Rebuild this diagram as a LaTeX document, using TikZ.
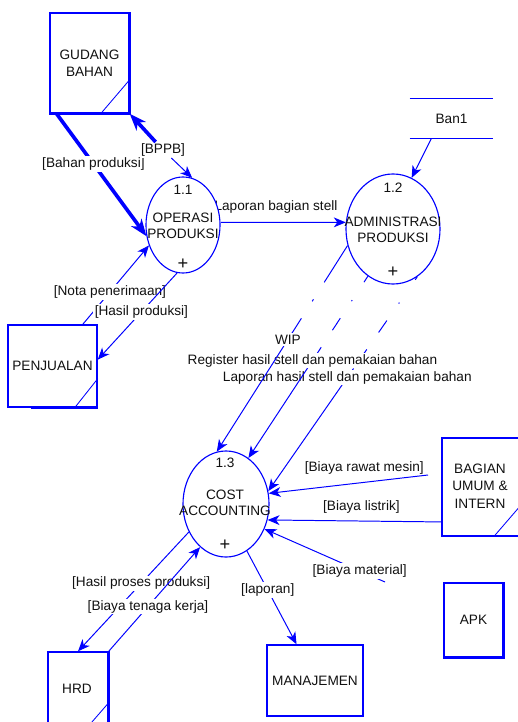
\documentclass[tikz,border=0pt]{standalone}
\usepackage{fontspec}
\setmainfont{Liberation Sans}
\usetikzlibrary{shapes.geometric,arrows.meta}
\definecolor{dfdblue}{HTML}{0000FF}
\definecolor{ink}{HTML}{111111}
\newcommand{\dfdfont}{\fontsize{9.7}{12.4}\selectfont}

\begin{document}
\begin{tikzpicture}[x=.025cm,y=-.025cm,
  every node/.style={text=ink,font=\dfdfont},
  proc/.style={ellipse,draw=dfdblue,line width=.8pt,fill=white,inner sep=0pt},
  ent/.style={draw=dfdblue,line width=1pt,inner sep=0pt,align=center},
  flow/.style={draw=dfdblue,line width=.7pt,-{Stealth[length=8.5pt,width=7pt,inset=2.5pt]}},
  bigflow/.style={flow,line width=2.6pt,-{Stealth[length=12pt,width=9pt,inset=3.5pt]}},
  lbl/.style={fill=white,inner sep=1pt},
  ptext/.style={align=center,font=\fontsize{9.7}{11.5}\selectfont},
  plus/.style={font=\fontsize{13}{13}\selectfont}]
\fill[white] (0,0) rectangle (518,722);
\useasboundingbox (0,0) rectangle (518,722);
% label that slips under process 1.1
\node (lstell) at (276,207) {Laporan bagian stell};
% processes
\node[proc,minimum width=1.85cm,minimum height=2.4cm] (p11) at (183,225) {};
\node[proc,minimum width=2.35cm,minimum height=2.75cm] (p12) at (393,229) {};
\node[proc,minimum width=2.15cm,minimum height=2.65cm] (p13) at (226,504) {};
\node[ptext] (n11) at (183,190) {1.1};
\node[ptext] (t11) at (183,226) {OPERASI\\PRODUKSI};
\node[plus] (x11) at (183,264) {+};
\node[ptext] (n12) at (393,188) {1.2};
\node[ptext] (t12) at (393,230) {ADMINISTRASI\\PRODUKSI};
\node[plus] (x12) at (393,272) {+};
\node[ptext] (n13) at (225,463) {1.3};
\node[ptext] (t13) at (225,503) {COST\\ACCOUNTING};
\node[plus] (x13) at (225,545) {+};
% external entities
\node[ent,minimum width=1.975cm,minimum height=2.5cm] (gudang) at (89.5,63) {GUDANG\\BAHAN};
\draw[dfdblue,line width=2.2pt] (gudang.north east) -- (gudang.south east) -- (gudang.south west);
\draw[dfdblue,line width=.6pt] ([xshift=-.725cm]gudang.south east) -- ([yshift=.85cm]gudang.south east);
\node[ent,minimum width=2.225cm,minimum height=2.05cm] (penjualan) at (52.5,366) {PENJUALAN};
\draw[dfdblue,line width=2pt] ([xshift=.6cm]penjualan.south west) -- (penjualan.south east);
\draw[dfdblue,line width=.6pt] ([xshift=-.575cm]penjualan.south east) -- ([yshift=.725cm]penjualan.south east);
\node[ent,minimum width=2.2cm,minimum height=2.45cm] (bagian) at (486,487) {};
\node[align=center] (tbagian) at (480,486) {BAGIAN\\UMUM \&\\INTERN};
\draw[dfdblue,line width=.6pt] ([xshift=-.925cm]bagian.south east) -- ([xshift=-.3cm,yshift=.725cm]bagian.south east);
\node[ent,minimum width=1.475cm,minimum height=1.85cm] (apk) at (473.5,620) {APK};
\draw[dfdblue,line width=1.3pt] (apk.north east) -- (apk.south east) -- (apk.south west);
\node[ent,minimum width=2.4cm,minimum height=1.775cm] (manajemen) at (315,680.5) {MANAJEMEN};
\node[ent,minimum width=1.5cm,minimum height=2.2cm] (hrd) at (78,696) {};
\node (thrd) at (77,689) {HRD};
\draw[dfdblue,line width=2pt] (hrd.north east) -- (hrd.south east);
\draw[dfdblue,line width=.6pt] ([xshift=-.825cm]hrd.south east) -- ([yshift=.95cm]hrd.south east);
% data store
\node[minimum width=2.075cm,minimum height=.975cm,inner sep=0pt] (ban1) at (451.5,118.5) {Ban1};
\draw[dfdblue,line width=1pt] (ban1.north west) -- (ban1.north east) (ban1.south west) -- (ban1.south east);
% flows round 1.1
\draw[bigflow] (gudang.237) -- node[lbl,pos=.41] (lbahan) {[Bahan produksi]} (p11.197);
\node[lbl] (lbppb) at (163,150) {[BPPB]};
\draw[bigflow] (lbppb) -- (gudang.south east);
\draw[flow] (lbppb) -- (p11.79);
\draw[flow] (p11.4) -- (p12.172);
\draw[flow] ([xshift=-.5cm]ban1.south) -- (p12.70);
\draw[flow] (penjualan.54) -- node[lbl,pos=.41] (lnota) {[Nota penerimaan]} (p11.211);
\draw[flow] (p11.263) -- node[lbl,pos=.45] (lhasil) {[Hasil produksi]} (penjualan.8);
% reports from 1.2 down to 1.3
\draw[flow,dash pattern=on 2.6pt off 19.8pt on .85pt off 14.7pt on 10.3pt off 14.7pt on 3.5pt off 13pt on 600pt off 1pt]
  (p12.297) -- node[lbl,pos=.47] (llapstell) {Laporan hasil stell dan pemakaian bahan} (p13.17);
\draw[flow,dash pattern=on 5.1pt off 15.3pt on .85pt off 14.5pt on 10.2pt off 14.5pt on 600pt off 1pt]
  (p12.242.5) -- node[lbl,pos=.464] (lregister) {Register hasil stell dan pemakaian bahan} (p13.64);
\draw[flow,dash pattern=on 31pt off 14.3pt on 1.7pt off 14.3pt on 600pt off 1pt]
  (p12.200) -- node[lbl,pos=.456] (lwip) {WIP} (p13.100);
% costs into 1.3
\coordinate (rawat) at (428,475);
\draw[flow] (rawat) -- node[pos=.4,yshift=.35cm] (lrawat) {[Biaya rawat mesin]} (p13.14);
\draw[flow] (bagian.218) -- node[pos=.46,yshift=.35cm] (llistrik) {[Biaya listrik]} (p13.-21);
\coordinate (material) at (385,582);
\draw[flow] (material) -- node[lbl,pos=.21] (lmaterial) {[Biaya material]} (p13.-33);
\draw[flow] (p13.-66) -- node[lbl,pos=.42] (llaporan) {[laporan]} (manajemen.117);
\draw[flow] (p13.217) -- node[lbl,pos=.43] (lproses) {[Hasil proses produksi]} (hrd.north);
\draw[flow] (hrd.north east) -- node[lbl,pos=.43] (ltenaga) {[Biaya tenaga kerja]} (p13.239);
\end{tikzpicture}
\end{document}
